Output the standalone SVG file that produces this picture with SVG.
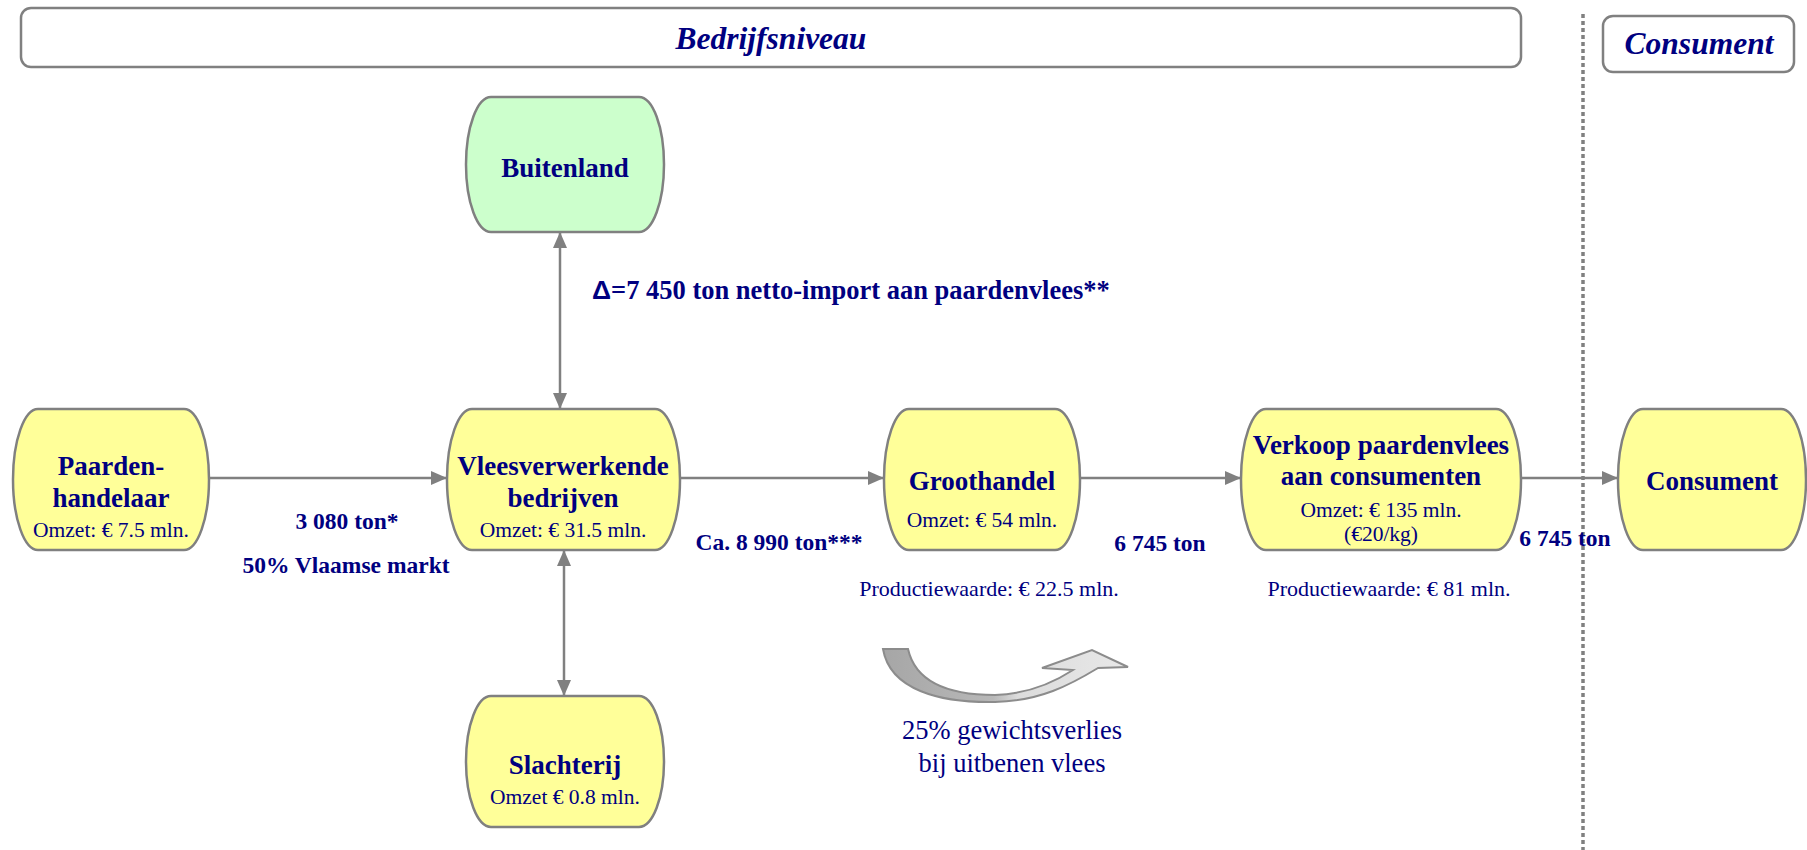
<svg xmlns="http://www.w3.org/2000/svg" width="1807" height="850" viewBox="0 0 1807 850">
<style>
.node{fill:#FFFF99;stroke:#808080;stroke-width:2.5}
.green{fill:#CCFFCC;stroke:#808080;stroke-width:2.5}
.hdr{fill:#fff;stroke:#808080;stroke-width:2.5}
.t{font-family:"Liberation Serif","Times New Roman",serif;fill:#000080;text-anchor:middle}
.b{font-weight:bold;font-size:27px}
.r{font-size:21.5px}
.lb{font-weight:bold;font-size:23.5px}
.hi{font-style:italic;font-weight:bold;font-size:31.5px}
.con{stroke:#808080;stroke-width:2.5;fill:none}
</style>
<defs>
<marker id="arr" markerUnits="userSpaceOnUse" markerWidth="16" markerHeight="14" refX="16" refY="7" orient="auto-start-reverse">
<path d="M0,0 L16,7 L0,14 Z" fill="#808080"/>
</marker>
<linearGradient id="cg" x1="0" y1="0" x2="1" y2="0">
<stop offset="0" stop-color="#a6a6a6"/>
<stop offset="0.45" stop-color="#b8b8b8"/>
<stop offset="0.55" stop-color="#dcdcdc"/>
<stop offset="1" stop-color="#e8e8e8"/>
</linearGradient>
</defs>

<g id="header-bedrijf">
<rect class="hdr" x="21" y="8" width="1500" height="59" rx="10"/>
<text class="t hi" x="771" y="49">Bedrijfsniveau</text>
</g>
<line x1="1583" y1="14" x2="1583" y2="850" stroke="#808080" stroke-width="3.5" stroke-dasharray="4,3"/>
<g id="header-consument">
<rect class="hdr" x="1603" y="16" width="191" height="56" rx="10"/>
<text class="t hi" x="1699" y="54">Consument</text>
</g>

<g id="connectors">
<line class="con" x1="209" y1="478" x2="447" y2="478" marker-end="url(#arr)"/>
<line class="con" x1="680" y1="478" x2="884" y2="478" marker-end="url(#arr)"/>
<line class="con" x1="1080" y1="478" x2="1241" y2="478" marker-end="url(#arr)"/>
<line class="con" x1="1521" y1="478" x2="1618" y2="478" marker-end="url(#arr)"/>
<line class="con" x1="560" y1="232" x2="560" y2="409" marker-start="url(#arr)" marker-end="url(#arr)"/>
<line class="con" x1="564" y1="550" x2="564" y2="696" marker-start="url(#arr)" marker-end="url(#arr)"/>
</g>

<g id="paardenhandelaar">
<path class="node" d="M38,409 H184 A25,70.5 0 0 1 184,550 H38 A25,70.5 0 0 1 38,409 Z"/>
<text class="t b" x="111" y="475">Paarden-</text>
<text class="t b" x="111" y="507">handelaar</text>
<text class="t r" x="111" y="537">Omzet: € 7.5 mln.</text>
</g>

<g id="vleesverwerkende">
<path class="node" d="M472,409 H655 A25,70.5 0 0 1 655,550 H472 A25,70.5 0 0 1 472,409 Z"/>
<text class="t b" x="563" y="475">Vleesverwerkende</text>
<text class="t b" x="563" y="507">bedrijven</text>
<text class="t r" x="563" y="537">Omzet: € 31.5 mln.</text>
</g>

<g id="groothandel">
<path class="node" d="M909,409 H1055 A25,70.5 0 0 1 1055,550 H909 A25,70.5 0 0 1 909,409 Z"/>
<text class="t b" x="982" y="490">Groothandel</text>
<text class="t r" x="982" y="527">Omzet: € 54 mln.</text>
</g>

<g id="verkoop">
<path class="node" d="M1266,409 H1496 A25,70.5 0 0 1 1496,550 H1266 A25,70.5 0 0 1 1266,409 Z"/>
<text class="t b" x="1381" y="454">Verkoop paardenvlees</text>
<text class="t b" x="1381" y="485">aan consumenten</text>
<text class="t r" x="1381" y="517">Omzet: € 135 mln.</text>
<text class="t r" x="1381" y="541">(€20/kg)</text>
</g>

<g id="consument">
<path class="node" d="M1643,409 H1781 A25,70.5 0 0 1 1781,550 H1643 A25,70.5 0 0 1 1643,409 Z"/>
<text class="t b" x="1712" y="490">Consument</text>
</g>

<g id="buitenland">
<path class="green" d="M491,97 H639 A25,67.5 0 0 1 639,232 H491 A25,67.5 0 0 1 491,97 Z"/>
<text class="t b" x="565" y="177">Buitenland</text>
</g>

<g id="slachterij">
<path class="node" d="M491,696 H639 A25,65.5 0 0 1 639,827 H491 A25,65.5 0 0 1 491,696 Z"/>
<text class="t b" x="565" y="774">Slachterij</text>
<text class="t r" x="565" y="804">Omzet € 0.8 mln.</text>
</g>

<g id="labels">
<text class="t lb" x="347" y="529">3 080 ton*</text>
<text class="t lb" x="346" y="573">50% Vlaamse markt</text>
<text class="t lb" x="779" y="550">Ca. 8 990 ton***</text>
<text class="t lb" x="1160" y="551">6 745 ton</text>
<text class="t lb" x="1565" y="546">6 745 ton</text>
<text class="t" x="989" y="596" style="font-size:22px">Productiewaarde: € 22.5 mln.</text>
<text class="t" x="1389" y="596" style="font-size:22px">Productiewaarde: € 81 mln.</text>
<text class="t" x="592" y="299" style="text-anchor:start;font-weight:bold;font-size:26.5px"><tspan style="font-family:'Liberation Sans',Arial,sans-serif">Δ</tspan>=7 450 ton netto-import aan paardenvlees**</text>
<text class="t" x="1012" y="739" style="font-size:26.5px">25% gewichtsverlies</text>
<text class="t" x="1012" y="772" style="font-size:26.5px">bij uitbenen vlees</text>
</g>

<g id="curved-arrow">
<path d="M883,649 C890,690 940,703 995,702 C1040,701 1070,685 1098,668 L1128,667 L1092,650 L1042,668 L1073,670 C1050,685 1025,694 995,695 C945,695 915,680 908,649 Z" fill="url(#cg)" stroke="#8c8c8c" stroke-width="2"/>
</g>
</svg>
